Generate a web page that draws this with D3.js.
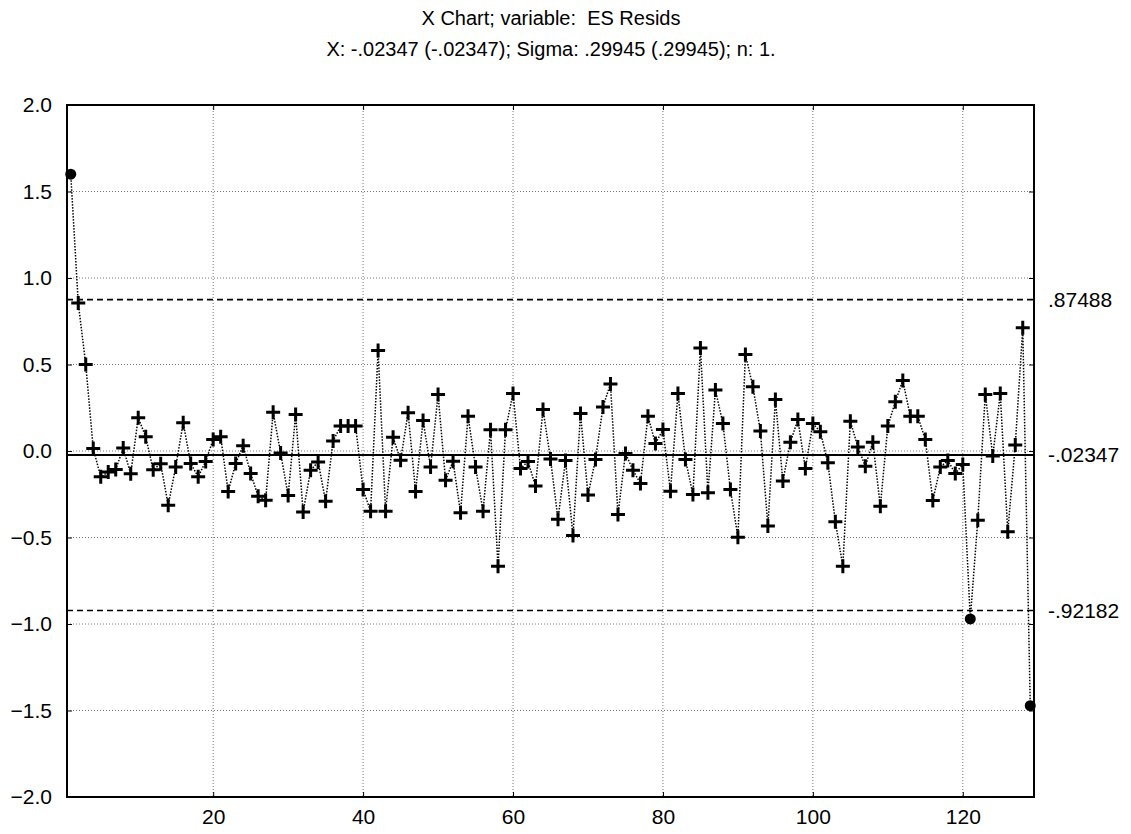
<!DOCTYPE html>
<html>
<head>
<meta charset="utf-8">
<script src="https://cdn.jsdelivr.net/npm/d3@7/dist/d3.min.js"></script>
<style>
  html, body { margin: 0; padding: 0; background: #fff; }
  svg { display: block; }
  text { font-family: "Liberation Sans", Arial, sans-serif; fill: #000; white-space: pre; }
</style>
</head>
<body>
<svg id="chart" width="1131" height="834"></svg>
<script>
// ---- data ----
const titleLines = ["X Chart; variable:  ES Resids",
                    "X: -.02347 (-.02347); Sigma: .29945 (.29945); n: 1."];
const centerLine = -0.02347;
const upperLimit = 0.87488;
const lowerLimit = -0.92182;
const limitLabels = [".87488", "-.02347", "-.92182"];
const yTicks = [-2.0, -1.5, -1.0, -0.5, 0.0, 0.5, 1.0, 1.5, 2.0];
const xTicks = [20, 40, 60, 80, 100, 120];
const residuals = [
  1.60, 0.856, 0.50, 0.014, -0.149, -0.122, -0.107, 0.017, -0.132, 0.192,
  0.082, -0.109, -0.074, -0.313, -0.092, 0.163, -0.072, -0.149, -0.060, 0.067,
  0.082, -0.234, -0.072, 0.031, -0.130, -0.261, -0.284, 0.224, -0.012, -0.257,
  0.211, -0.352, -0.111, -0.063, -0.290, 0.058, 0.144, 0.144, 0.144, -0.223,
  -0.348, 0.581, -0.348, 0.080, -0.054, 0.221, -0.234, 0.176, -0.093, 0.327,
  -0.169, -0.059, -0.357, 0.201, -0.093, -0.348, 0.123, -0.666, 0.123, 0.332,
  -0.101, -0.061, -0.203, 0.240, -0.046, -0.394, -0.055, -0.488, 0.217, -0.255,
  -0.049, 0.255, 0.388, -0.367, -0.014, -0.111, -0.188, 0.201, 0.043, 0.124,
  -0.232, 0.332, -0.049, -0.251, 0.596, -0.242, 0.352, 0.159, -0.223, -0.498,
  0.558, 0.371, 0.115, -0.434, 0.298, -0.174, 0.051, 0.182, -0.101, 0.159,
  0.111, -0.068, -0.409, -0.666, 0.172, 0.023, -0.088, 0.051, -0.319, 0.144,
  0.284, 0.408, 0.201, 0.201, 0.066, -0.286, -0.093, -0.055, -0.130, -0.078,
  -0.971, -0.400, 0.327, -0.029, 0.332, -0.467, 0.034, 0.712, -1.472
];

// ---- layout ----
const svg = d3.select("#chart");
const L = 67, R = 1034, T = 105, B = 797;
const x = d3.scaleLinear().domain([0.5, residuals.length + 0.5]).range([L, R]);
const y = d3.scaleLinear().domain([-2, 2]).range([B, T]);

// titles
svg.append("text").attr("x", 551).attr("y", 25).attr("text-anchor", "middle")
  .attr("xml:space", "preserve")
  .style("font-size", "20px").text(titleLines[0]);
svg.append("text").attr("x", 551).attr("y", 56).attr("text-anchor", "middle")
  .style("font-size", "20px").text(titleLines[1]);

// grid
const grid = svg.append("g").attr("stroke", "#777").attr("stroke-width", 1)
  .attr("stroke-dasharray", "1,2");
grid.selectAll("line.h").data(yTicks.filter(v => v > -2 && v < 2)).join("line")
  .attr("x1", L).attr("x2", R).attr("y1", d => y(d)).attr("y2", d => y(d));
grid.selectAll("line.v").data(xTicks).join("line")
  .attr("y1", T).attr("y2", B).attr("x1", d => x(d)).attr("x2", d => x(d));

// control lines
svg.append("line").attr("x1", L).attr("x2", R)
  .attr("y1", y(centerLine)).attr("y2", y(centerLine))
  .attr("stroke", "#000").attr("stroke-width", 2);
[upperLimit, lowerLimit].forEach(v => {
  svg.append("line").attr("x1", L).attr("x2", R)
    .attr("y1", y(v)).attr("y2", y(v))
    .attr("stroke", "#000").attr("stroke-width", 1.6)
    .attr("stroke-dasharray", "6,4");
});

// axes
const axisLeft = d3.axisLeft(y).tickValues(yTicks).tickFormat(d3.format(".1f"))
  .tickSize(-5).tickPadding(15);
const gL = svg.append("g").attr("transform", `translate(${L},0)`).call(axisLeft);
const axisBottom = d3.axisBottom(x).tickValues(xTicks).tickFormat(d3.format("d"))
  .tickSize(-5).tickPadding(12);
const gB = svg.append("g").attr("transform", `translate(0,${B})`).call(axisBottom);
const gT = svg.append("g").attr("transform", `translate(0,${T})`)
  .call(d3.axisTop(x).tickValues(xTicks).tickFormat("").tickSize(-5));
const gR = svg.append("g").attr("transform", `translate(${R},0)`)
  .call(d3.axisRight(y).tickValues(yTicks).tickFormat("").tickSize(-5));
[gL, gB, gT, gR].forEach(g => {
  g.select(".domain").remove();
  g.selectAll(".tick line").attr("stroke", "#000").attr("stroke-width", 1);
  g.selectAll(".tick text").style("font-size", "21px")
    .style("font-family", "'Liberation Sans', Arial, sans-serif");
});

// right labels for limits
[upperLimit, centerLine, lowerLimit].forEach((v, i) => {
  svg.append("text").attr("x", 1048).attr("y", y(v)).attr("dy", "0.35em")
    .style("font-size", "21px").text(limitLabels[i]);
});

// frame
svg.append("rect").attr("x", L).attr("y", T).attr("width", R - L).attr("height", B - T)
  .attr("fill", "none").attr("stroke", "#000").attr("stroke-width", 2);

// series line
const line = d3.line().x((d, i) => x(i + 1)).y(d => y(d));
svg.append("path").datum(residuals).attr("d", line)
  .attr("fill", "none").attr("stroke", "#000").attr("stroke-width", 1.5)
  .attr("stroke-dasharray", "1.5,1.5");

// markers
const pts = residuals.map((v, i) => ({ i: i + 1, v }));
const inCtl = pts.filter(p => p.v <= upperLimit && p.v >= lowerLimit);
const outCtl = pts.filter(p => p.v > upperLimit || p.v < lowerLimit);
svg.append("g").selectAll("path").data(inCtl).join("path")
  .attr("transform", d => `translate(${x(d.i)},${y(d.v)})`)
  .attr("d", "M-7,0H7M0,-7V7")
  .attr("stroke", "#000").attr("stroke-width", 3).attr("fill", "none");
svg.append("g").selectAll("circle").data(outCtl).join("circle")
  .attr("cx", d => x(d.i)).attr("cy", d => y(d.v)).attr("r", 5.5).attr("fill", "#000");
</script>
</body>
</html>
